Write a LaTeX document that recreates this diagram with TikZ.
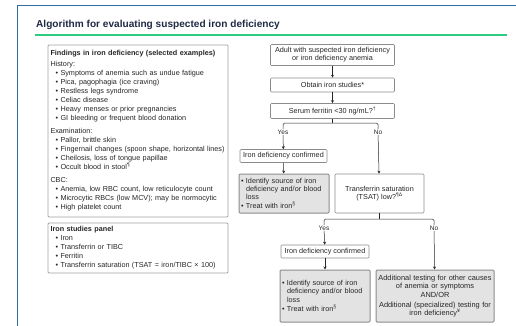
\documentclass[tikz,border=0pt]{standalone}
\usepackage{fontspec}
\setmainfont{Liberation Sans}
\usetikzlibrary{arrows.meta}
\definecolor{frameblue}{HTML}{2E6DA4}
\definecolor{rulegreen}{HTML}{2ECC80}
\definecolor{titlecol}{HTML}{1F2A44}
\definecolor{boxline}{HTML}{8C8C8C}
\definecolor{boxfill}{HTML}{E3E3E3}
\definecolor{txt}{HTML}{262626}
\newcommand{\bl}[1]{\hspace*{5pt}\textbullet\hspace{2.5pt}#1}
\begin{document}
\begin{tikzpicture}[x=1pt,y=-1pt,
  font=\fontsize{7.25}{9}\selectfont, text=txt,
  flow/.style={draw=boxline, line width=0.6pt, rounded corners=1pt, align=center, inner sep=1pt},
  grayflow/.style={flow, fill=boxfill, line width=1pt},
  panel/.style={draw=boxline!80, line width=0.9pt, rounded corners=1pt, align=left, inner xsep=2.5pt, inner ysep=3pt},
  lbl/.style={inner sep=0.5pt, font=\fontsize{6.5}{7}\selectfont},
  conn/.style={draw=txt, line width=0.5pt},
  arr/.style={conn, -{Stealth[length=3pt,width=3pt]}}
]
\useasboundingbox (0,0) rectangle (516,326);
\fill[white] (0,0) rectangle (516,326);
% slide frame
\draw[frameblue, line width=1.5pt] (17.5,330) -- (17.5,5.5) -- (520,5.5);
% title
\node[anchor=west, inner sep=0pt, text=titlecol, font=\fontsize{10.1}{12}\bfseries] (title) at (36,25) {Algorithm for evaluating suspected iron deficiency};
\draw[rulegreen, line width=2pt] (35,35.5) -- (507,35.5);

% left panels
\node[panel, minimum width=180pt, minimum height=172pt, text width=175pt] (findings) at (138,131) {%
\textbf{Findings in iron deficiency (selected examples)}\\[2pt]
History:\\
\bl{Symptoms of anemia such as undue fatigue}\\
\bl{Pica, pagophagia (ice craving)}\\
\bl{Restless legs syndrome}\\
\bl{Celiac disease}\\
\bl{Heavy menses or prior pregnancies}\\
\bl{GI bleeding or frequent blood donation}\\[4pt]
Examination:\\
\bl{Pallor, brittle skin}\\
\bl{Fingernail changes (spoon shape, horizontal lines)}\\
\bl{Cheilosis, loss of tongue papillae}\\
\bl{Occult blood in stool\textsuperscript{¶}}\\[4pt]
CBC:\\
\bl{Anemia, low RBC count, low reticulocyte count}\\
\bl{Microcytic RBCs (low MCV); may be normocytic}\\
\bl{High platelet count}};
\node[panel, minimum width=180pt, minimum height=50pt, text width=175pt] (panelbox) at (138,248) {%
\textbf{Iron studies panel}\\
\bl{Iron}\\
\bl{Transferrin or TIBC}\\
\bl{Ferritin}\\
\bl{Transferrin saturation (TSAT = iron/TIBC × 100)}};

% flowchart
\node[flow, minimum width=124pt, minimum height=21pt, font=\fontsize{7.25}{8.2}\selectfont] (adult) at (332.5,55) {Adult with suspected iron deficiency\\or iron deficiency anemia};
\node[flow, minimum width=124pt, minimum height=14pt] (obtain) at (332.5,85) {Obtain iron studies*};
\node[flow, minimum width=124pt, minimum height=15pt] (ferritin) at (332.5,111) {Serum ferritin <30 ng/mL?\textsuperscript{†}};
\coordinate (j1) at (332.5,123);
\coordinate (y1) at (283,123);
\coordinate (n1) at (378,123);
\node[lbl] (yes1) at (283,132) {Yes};
\node[lbl] (no1) at (378,132) {No};
\node[flow, minimum width=87pt, minimum height=13pt] (conf1) at (283.5,156) {Iron deficiency confirmed};
\node[grayflow, minimum width=90pt, minimum height=39pt, text width=86pt, align=left, font=\fontsize{7.25}{8.2}\selectfont] (treat1) at (284,193.5) {%
\textbullet\ Identify source of iron\\\hspace*{5pt}deficiency and/or blood\\\hspace*{5pt}loss\\[1pt]\textbullet\ Treat with iron\textsuperscript{§}};
\node[flow, minimum width=89pt, minimum height=39pt, font=\fontsize{7.25}{8.2}\selectfont] (tsat) at (379.5,193.5) {Transferrin saturation\\(TSAT) low?\textsuperscript{¶Δ}};
\coordinate (j2) at (379.5,219);
\coordinate (y2) at (324,219);
\coordinate (n2) at (434,219);
\node[lbl] (yes2) at (324,228) {Yes};
\node[lbl] (no2) at (434,228) {No};
\node[flow, minimum width=88pt, minimum height=13pt] (conf2) at (325,251.5) {Iron deficiency confirmed};
\node[grayflow, minimum width=90pt, minimum height=52pt, text width=86pt, align=left, font=\fontsize{7.25}{8.2}\selectfont] (treat2) at (325,296) {%
\textbullet\ Identify source of iron\\\hspace*{5pt}deficiency and/or blood\\\hspace*{5pt}loss\\[1pt]\textbullet\ Treat with iron\textsuperscript{§}\\[12pt]};
\node[grayflow, minimum width=118pt, minimum height=52pt, text width=116pt, font=\fontsize{7.4}{8.2}\selectfont] (other) at (435,296) {%
Additional testing for other causes\\of anemia or symptoms\\[1pt]AND/OR\\[1pt]Additional (specialized) testing for\\iron deficiency\textsuperscript{¥}};

% connectors
\draw[arr] (adult) -- (obtain);
\draw[arr] (obtain) -- (ferritin);
\draw[conn] (ferritin.south) -- (j1);
\draw[conn, rounded corners=1.5pt] (yes1.north) -- (y1) -- (n1) -- (no1.north);
\draw[arr] (yes1) -- (conf1);
\draw[arr] (conf1) -- (treat1);
\draw[arr] (no1) -- (tsat);
\draw[conn] (tsat.south) -- (j2);
\draw[conn, rounded corners=1.5pt] (yes2.north) -- (y2) -- (n2) -- (no2.north);
\draw[arr] (yes2) -- (conf2);
\draw[arr] (conf2) -- (treat2);
\draw[arr] (no2) -- (other);
\end{tikzpicture}
\end{document}
